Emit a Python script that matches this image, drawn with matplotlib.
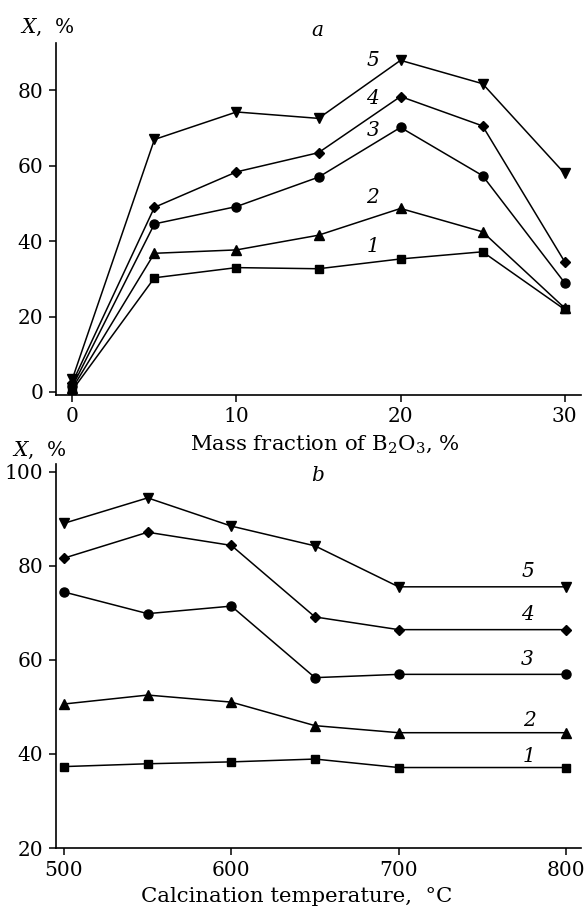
import matplotlib
matplotlib.use("Agg")
import matplotlib.pyplot as plt

plt.rcParams['font.family'] = ['DejaVu Serif']
plt.rcParams['mathtext.fontset'] = 'dejavuserif'

# panel a: conversion vs B2O3 mass fraction
b2o3 = [0, 5, 10, 15, 20, 25, 30]
a_1 = [0.5, 30.3, 33.0, 32.7, 35.3, 37.2, 21.9]
a_2 = [1.0, 36.8, 37.7, 41.6, 48.7, 42.5, 22.3]
a_3 = [1.5, 44.6, 49.2, 57.0, 70.2, 57.4, 29.0]
a_4 = [2.5, 49.0, 58.4, 63.5, 78.4, 70.6, 34.6]
a_5 = [3.5, 67.0, 74.3, 72.6, 88.0, 81.8, 58.0]

# panel b: conversion vs calcination temperature
temp = [500, 550, 600, 650, 700, 800]
b_1 = [37.3, 37.9, 38.3, 38.9, 37.1, 37.1]
b_2 = [50.6, 52.5, 51.0, 46.0, 44.5, 44.5]
b_3 = [74.4, 69.8, 71.4, 56.2, 56.9, 56.9]
b_4 = [81.6, 87.1, 84.3, 69.1, 66.4, 66.4]
b_5 = [89.0, 94.4, 88.4, 84.2, 75.5, 75.5]

curve_labels = ['1', '2', '3', '4', '5']
markers = ['s', '^', 'o', 'D', 'v']
msizes = [6, 7, 6.5, 5.5, 7]

fs = 14.5
fs_lab = 15.3

fig = plt.figure(figsize=(5.84, 9.06), dpi=100)
ax1 = fig.add_axes([56/584, 1-395/906, 525/584, 352/906])
ax2 = fig.add_axes([56/584, 1-848/906, 525/584, 384/906])


def style(ax):
    for side in ['top', 'right']:
        ax.spines[side].set_visible(False)
    for side in ['left', 'bottom']:
        ax.spines[side].set_linewidth(1.2)
    ax.tick_params(direction='out', length=5, width=1.1, labelsize=fs, pad=4)


for ys, m, ms in zip([a_1, a_2, a_3, a_4, a_5], markers, msizes):
    ax1.plot(b2o3, ys, color='black', lw=1.1, marker=m, ms=ms, clip_on=False)
style(ax1)
ax1.set_xlim(-1, 31)
ax1.set_ylim(-0.8, 92.6)
ax1.set_xticks([0, 10, 20, 30])
ax1.set_yticks([0, 20, 40, 60, 80])

a_lab_x = [18.3, 18.3, 18.3, 18.3, 18.3]
a_lab_y = [38.5, 51.7, 69.5, 77.8, 88.0]
for t, x, y in zip(curve_labels, a_lab_x, a_lab_y):
    ax1.text(x, y, t, fontsize=fs, style='italic', ha='center', va='center')
ax1.text(14.9, 95.8, 'a', fontsize=fs, style='italic', ha='center', va='center', clip_on=False)

for ys, m, ms in zip([b_1, b_2, b_3, b_4, b_5], markers, msizes):
    ax2.plot(temp, ys, color='black', lw=1.1, marker=m, ms=ms, clip_on=False)
style(ax2)
ax2.set_xlim(495.2, 809)
ax2.set_ylim(20, 101.6)
ax2.set_xticks([500, 600, 700, 800])
ax2.set_yticks([20, 40, 60, 80, 100])

b_lab_x = [778, 778, 777, 777, 777]
b_lab_y = [39.4, 47.0, 60.0, 69.7, 78.7]
for t, x, y in zip(curve_labels, b_lab_x, b_lab_y):
    ax2.text(x, y, t, fontsize=fs, style='italic', ha='center', va='center')
ax2.text(651.7, 99.2, 'b', fontsize=fs, style='italic', ha='center', va='center', clip_on=False)

# axis titles
fig.text(20/584, 1-27/906, r'$X$,  %', fontsize=fs, ha='left', va='center')
fig.text(12/584, 1-450/906, r'$X$,  %', fontsize=fs, ha='left', va='center')
fig.text(325/584, 1-450/906, r'Mass fraction of B$_2$O$_3$, %', fontsize=fs_lab, ha='center', va='baseline')
fig.text(297/584, 1-902/906, 'Calcination temperature,  °C', fontsize=fs_lab, ha='center', va='baseline')

plt.savefig("out.png", dpi=100)
plt.close()
